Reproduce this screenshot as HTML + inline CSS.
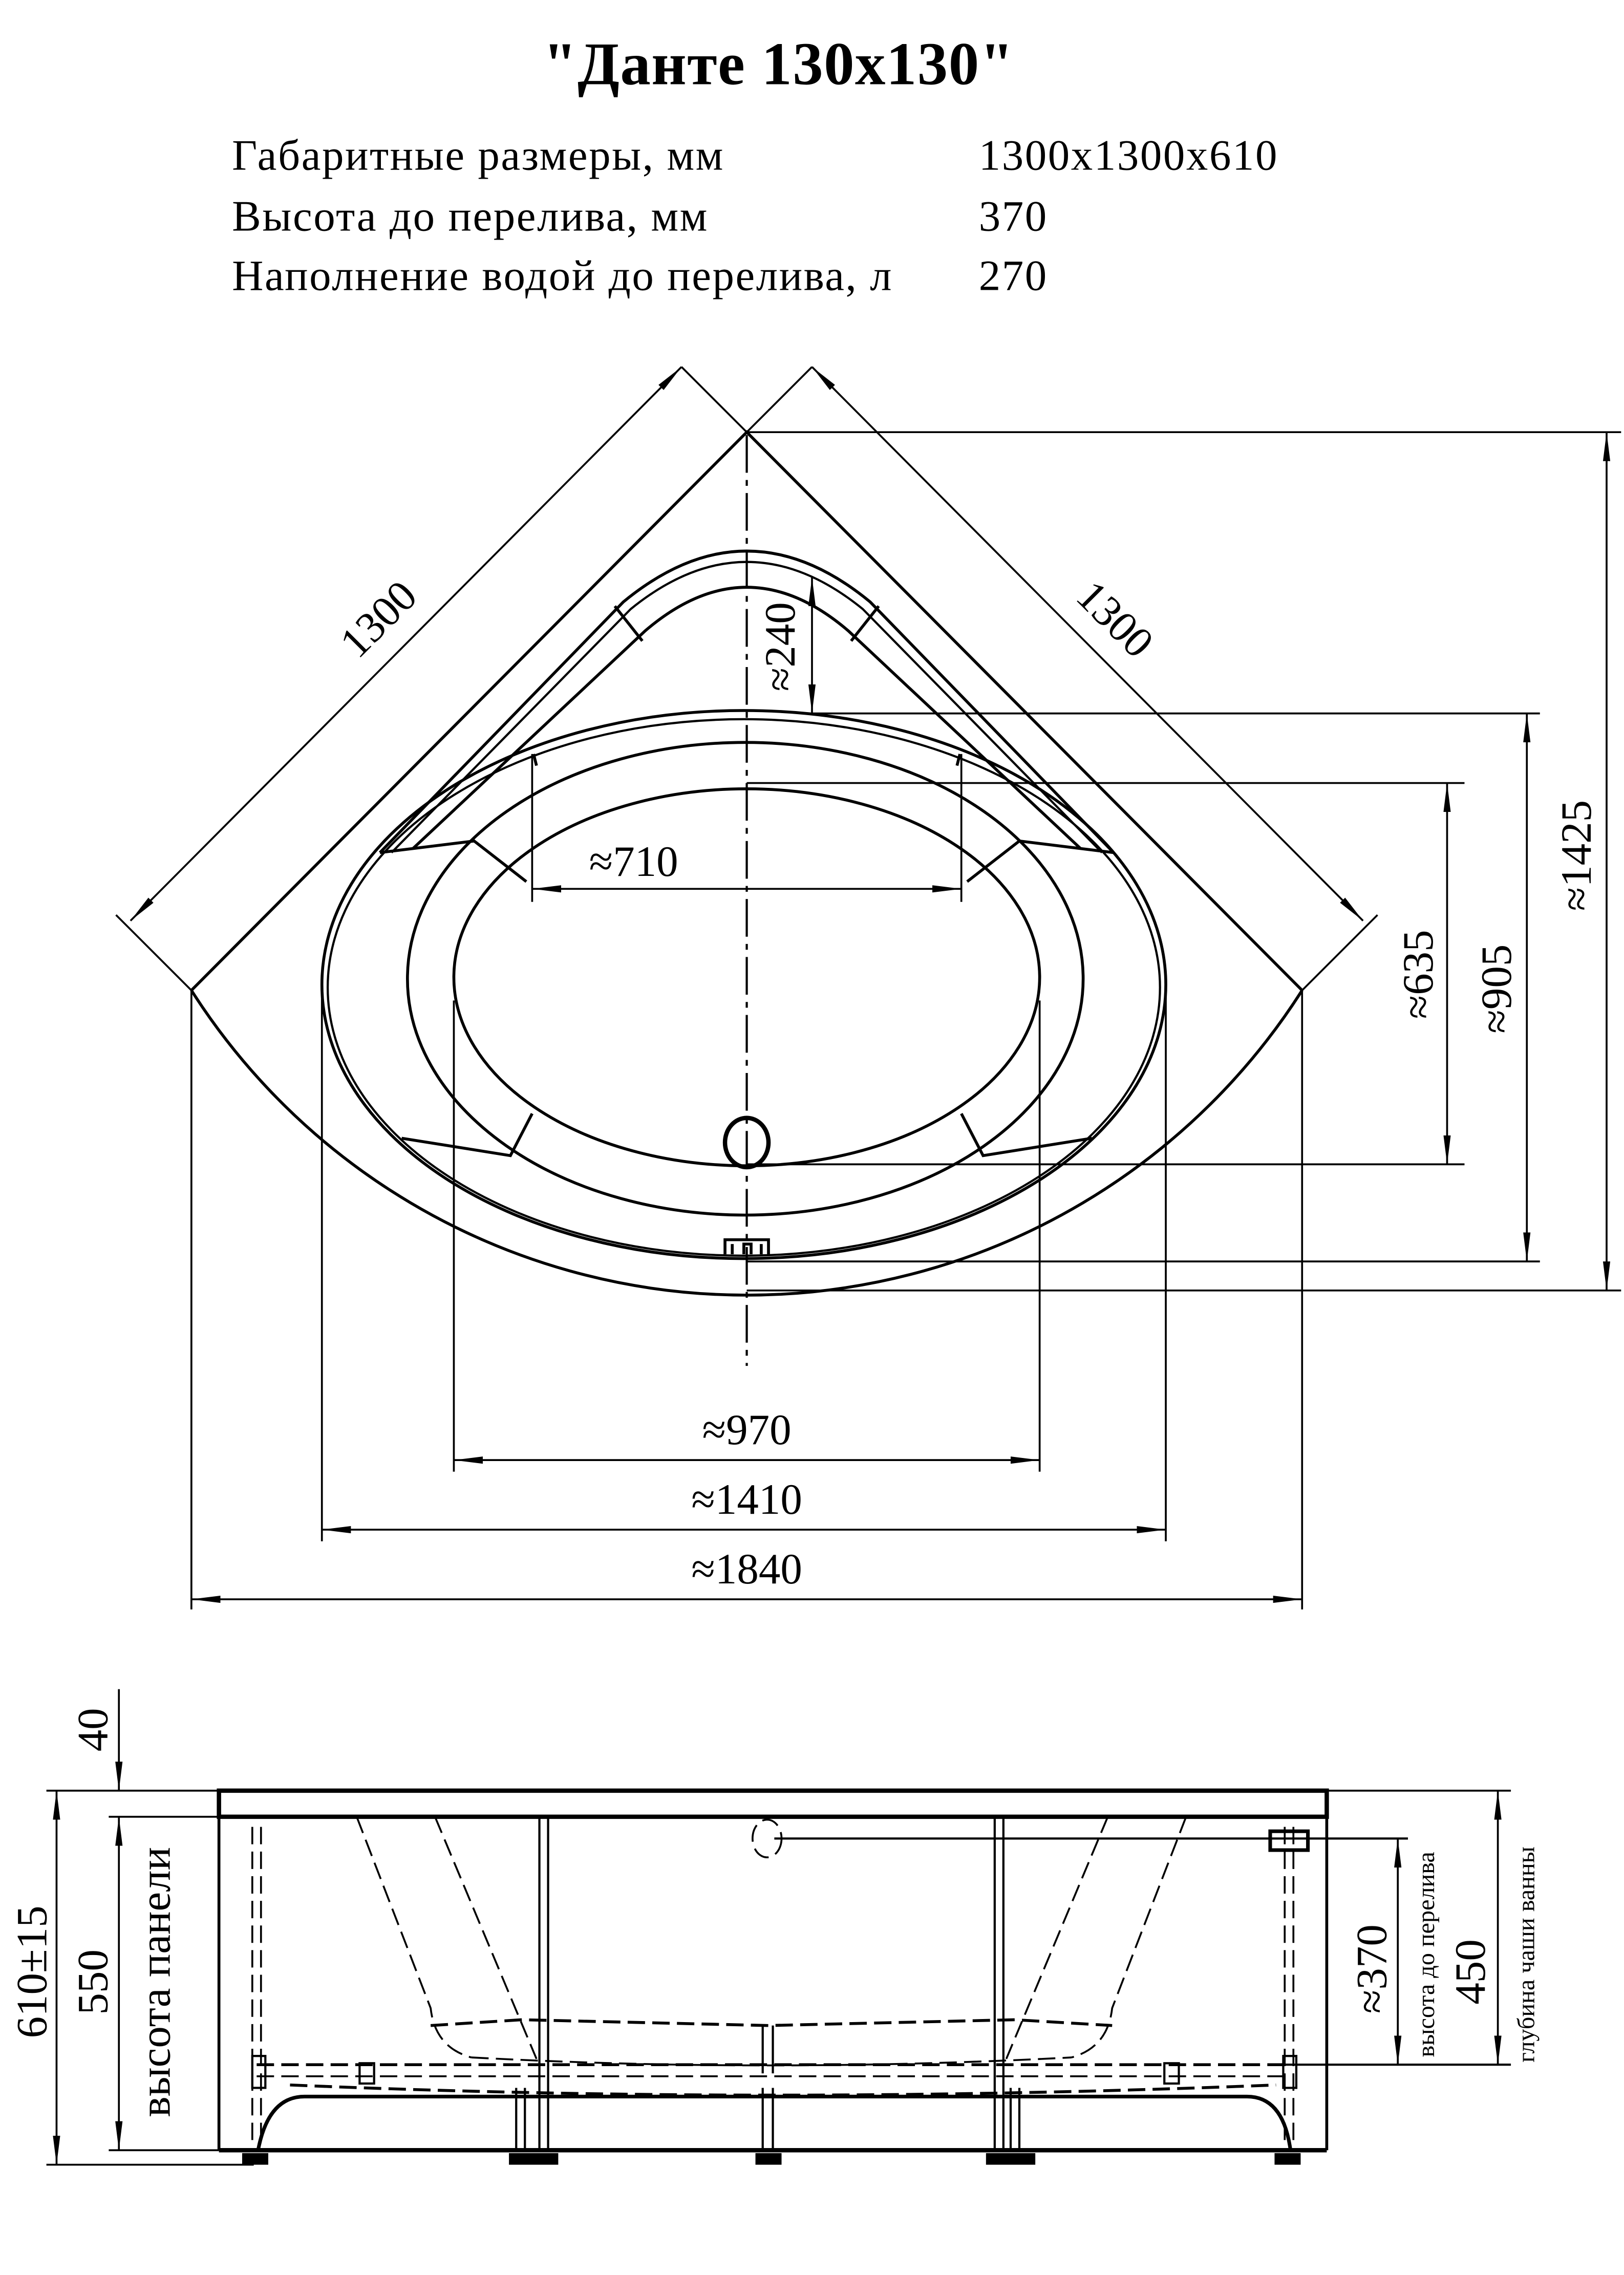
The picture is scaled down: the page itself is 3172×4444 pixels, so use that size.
<!DOCTYPE html>
<html><head><meta charset="utf-8"><style>
html,body{margin:0;padding:0;background:#fff}
svg{display:block}
text{font-family:"Liberation Serif",serif;fill:#000}
</style></head><body>
<svg width="3172" height="4444" viewBox="0 0 1120 1569" xmlns="http://www.w3.org/2000/svg">
<defs>
<marker id="a" viewBox="0 0 20 6" refX="20" refY="3" markerWidth="20" markerHeight="6" markerUnits="userSpaceOnUse" orient="auto-start-reverse"><path d="M0,0.5 L20,3 L0,5.5 z" fill="#000"/></marker>
</defs>
<rect width="1120" height="1569" fill="#fff"/>
<text x="537" y="58" font-size="42" font-weight="bold" text-anchor="middle" letter-spacing="0.5">"Данте 130x130"</text>
<g font-size="30" letter-spacing="0.9">
<text x="160" y="117">Габаритные размеры, мм</text>
<text x="160" y="159">Высота до перелива, мм</text>
<text x="160" y="200">Наполнение водой до перелива, л</text>
<text x="675" y="117">1300x1300x610</text>
<text x="675" y="159">370</text>
<text x="675" y="200">270</text>
</g>

<g fill="none" stroke="#000" stroke-width="2">
<path d="M132,683 L515,298 L898,683"/>
<path d="M132,683 A454,454 0 0 0 898,683"/>
<ellipse cx="513" cy="679" rx="291" ry="189"/>
<ellipse cx="513" cy="681" rx="287" ry="185" stroke-width="1.5"/>
<ellipse cx="514" cy="675" rx="233" ry="163"/>
<ellipse cx="515" cy="674" rx="202" ry="130"/>
<path d="M262,588 L430,415 Q515,345 600,415 L768,588"/>
<path d="M270,588 L435,420 Q515,355 595,420 L760,588" stroke-width="1.5"/>
<path d="M285,585 L445,435 Q515,375 585,435 L745,585"/>
<path d="M262,588 L327,580 L363,608"/>
<path d="M768,588 L703,580 L667,608"/>
<path d="M424,418 L443,442"/>
<path d="M606,418 L587,442"/>
<path d="M368,520 L370,528 M662,520 L660,528"/>
<path d="M277,785 L352,797 L367,768"/>
<path d="M753,785 L678,797 L663,768"/>
<ellipse cx="515" cy="788" rx="15" ry="17" stroke-width="3"/>
<path d="M500,865 L500,855 L530,855 L530,865 M505,865 V858 M525,865 V858 M513,865 V858 H518 V865"/>
</g>
<line x1="515" y1="300" x2="515" y2="942" stroke="#000" stroke-width="1.5" stroke-dasharray="26,5,4,5"/>

<g stroke="#000" stroke-width="1.3" fill="none">
<path d="M515,298 L470,253 M132,683 L80,631 M515,298 L560,253 M898,683 L950,631"/>
<path d="M515,298 H1118 M560,492 H1062 M515,540 H1010 M515,803 H1010 M515,870 H1062 M515,890 H1118"/>
<path d="M313,690 V1015 M717,690 V1015 M222,680 V1063 M804,680 V1063 M132,683 V1110 M898,683 V1110"/>
<path d="M367,520 V622 M663,520 V622"/>
<g marker-start="url(#a)" marker-end="url(#a)">
<line x1="90" y1="635" x2="470" y2="253"/>
<line x1="560" y1="253" x2="940" y2="635"/>
<line x1="1108" y1="298" x2="1108" y2="890"/>
<line x1="1053" y1="492" x2="1053" y2="870"/>
<line x1="998" y1="540" x2="998" y2="803"/>
<line x1="560" y1="398" x2="560" y2="492"/>
<line x1="367" y1="613" x2="663" y2="613"/>
<line x1="313" y1="1007" x2="717" y2="1007"/>
<line x1="222" y1="1055" x2="804" y2="1055"/>
<line x1="132" y1="1103" x2="898" y2="1103"/>
</g>
</g>
<g font-size="30">
<text transform="translate(268,434) rotate(-45)" text-anchor="middle">1300</text>
<text transform="translate(762,434) rotate(45)" text-anchor="middle">1300</text>
<text transform="translate(1097,590) rotate(-90)" text-anchor="middle">≈1425</text>
<text transform="translate(1042,682) rotate(-90)" text-anchor="middle">≈905</text>
<text transform="translate(988,672) rotate(-90)" text-anchor="middle">≈635</text>
<text transform="translate(548,446) rotate(-90)" text-anchor="middle">≈240</text>
<text x="437" y="604" text-anchor="middle">≈710</text>
<text x="515" y="996" text-anchor="middle">≈970</text>
<text x="515" y="1044" text-anchor="middle">≈1410</text>
<text x="515" y="1092" text-anchor="middle">≈1840</text>
</g>

<g fill="none" stroke="#000">
<rect x="151" y="1235" width="764" height="18" stroke-width="3"/>
<path d="M151,1253 V1483 M915,1253 V1483" stroke-width="2"/>
<line x1="151" y1="1483" x2="915" y2="1483" stroke-width="3"/>
<path d="M178,1483 Q185,1446 210,1446 H860 Q885,1446 890,1483" stroke-width="2.5"/>
<g stroke-width="1.3" stroke-dasharray="12,5">
<path d="M246,1253 L297,1385 Q300,1412 325,1419"/>
<path d="M300,1253 L370,1420"/>
<path d="M818,1253 L767,1385 Q764,1412 739,1419"/>
<path d="M764,1253 L694,1420"/>
<path d="M297,1397 L360,1393 L530,1397 L700,1393 L767,1397" stroke-width="2"/>
<path d="M325,1419 Q530,1430 739,1419"/>
<path d="M177,1424 H890" stroke-width="2"/>
<path d="M177,1432 H890"/>
<path d="M200,1438 Q530,1452 880,1438" stroke-width="2"/>
<path d="M174,1260 V1480 M180,1260 V1480 M886,1260 V1480 M892,1260 V1480"/>
<ellipse cx="529" cy="1268" rx="10" ry="13"/>
</g>
<g stroke-width="1.5">
<path d="M372,1253 V1483 M378,1253 V1483 M686,1253 V1483 M692,1253 V1483"/>
<path d="M526,1397 V1430 M533,1397 V1430 M526,1440 V1483 M533,1440 V1483"/>
<path d="M356,1440 V1483 M362,1440 V1483 M697,1440 V1483 M703,1440 V1483"/>
<rect x="174" y="1418" width="9" height="22"/><rect x="885" y="1418" width="9" height="22"/>
<rect x="248" y="1423" width="10" height="14"/><rect x="803" y="1423" width="10" height="14"/>
<rect x="876" y="1263" width="26" height="13" stroke-width="2.5"/>
</g>
<line x1="534" y1="1268" x2="971" y2="1268" stroke-width="1.5"/>
<line x1="885" y1="1424" x2="1042" y2="1424" stroke-width="1.5"/>
</g>
<g fill="#000">
<rect x="167" y="1485" width="18" height="8"/><rect x="351" y="1485" width="34" height="8"/>
<rect x="521" y="1485" width="18" height="8"/><rect x="680" y="1485" width="34" height="8"/>
<rect x="879" y="1485" width="18" height="8"/>
</g>
<g stroke="#000" stroke-width="1.3" fill="none">
<path d="M32,1235 H151 M75,1253 H151 M75,1483 H151 M32,1493 H175 M915,1235 H1042"/>
<line x1="82" y1="1165" x2="82" y2="1235" marker-end="url(#a)"/>
<line x1="82" y1="1253" x2="82" y2="1483" marker-start="url(#a)" marker-end="url(#a)"/>
<line x1="39" y1="1235" x2="39" y2="1493" marker-start="url(#a)" marker-end="url(#a)"/>
<line x1="964" y1="1268" x2="964" y2="1424" marker-start="url(#a)" marker-end="url(#a)"/>
<line x1="1033" y1="1235" x2="1033" y2="1424" marker-start="url(#a)" marker-end="url(#a)"/>
</g>
<g font-size="30">
<text transform="translate(74,1193) rotate(-90)" text-anchor="middle">40</text>
<text transform="translate(32,1360) rotate(-90)" text-anchor="middle">610±15</text>
<text transform="translate(74,1367) rotate(-90)" text-anchor="middle">550</text>
<text transform="translate(117,1367) rotate(-90)" text-anchor="middle">высота панели</text>
<text transform="translate(956,1358) rotate(-90)" text-anchor="middle">≈370</text>
<text transform="translate(1024,1360) rotate(-90)" text-anchor="middle">450</text>
</g>
<g font-size="17">
<text transform="translate(989,1348) rotate(-90)" text-anchor="middle">высота до перелива</text>
<text transform="translate(1058,1348) rotate(-90)" text-anchor="middle">глубина чаши ванны</text>
</g>
</svg>
</body></html>
